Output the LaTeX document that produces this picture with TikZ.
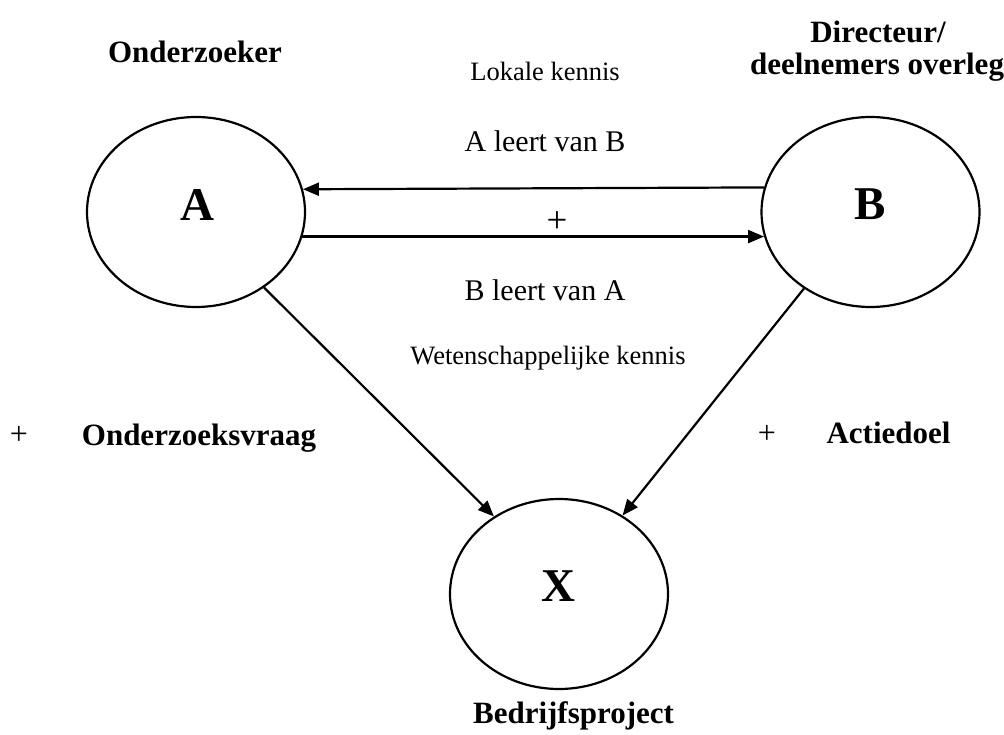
\documentclass[tikz,border=0pt]{standalone}
\usepackage{fontspec}
\setmainfont{Liberation Serif}
\usetikzlibrary{shapes.geometric,arrows.meta}

\begin{document}
\begin{tikzpicture}[x=1pt,y=-1pt,
  party/.style={ellipse, draw, line width=2.2pt, minimum width=218pt,
                minimum height=190pt, inner sep=0pt},
  bigletter/.style={anchor=base, inner sep=0pt,
                font=\fontsize{47}{50}\selectfont\bfseries},
  rolelabel/.style={anchor=base, inner sep=0pt,
                font=\fontsize{31}{32}\selectfont\bfseries},
  flowlabel/.style={anchor=base, inner sep=0pt,
                font=\fontsize{30}{32}\selectfont},
  kindlabel/.style={anchor=base, inner sep=0pt,
                font=\fontsize{26.5}{28}\selectfont},
  plussign/.style={anchor=center, inner sep=0pt,
                font=\fontsize{32}{34}\selectfont},
  link/.style={line width=2.2pt, -{Triangle[length=16pt,width=13pt]}}
]
\useasboundingbox[fill=white] (0,0) rectangle (1004,735);

% the three parties
\node[party] (A) at (196,212) {};
\node[party] (B) at (870.5,212) {};
\node[party] (X) at (559,594) {};

\node[bigletter] (Aletter) at (197,221) {A};
\node[bigletter] (Bletter) at (870,220) {B};
\node[bigletter] (Xletter) at (558,601) {X};

% role captions
\node[rolelabel] (onderzoeker) at (195,63) {Onderzoeker};
\node[rolelabel] (dirA) at (878,43) {Directeur/};
\node[rolelabel] (dirB) at (877,75) {deelnemers overleg};
\node[rolelabel] (vraag) at (199,445) {Onderzoeksvraag};
\node[rolelabel] (doel) at (888.5,443) {Actiedoel};
\node[rolelabel] (project) at (573.5,723) {Bedrijfsproject};

\node[plussign] (plusL) at (19,435) {+};
\node[plussign] (plusR) at (767,434) {+};

% mutual learning between A and B
\node[kindlabel] (lokaal) at (545,81) {Lokale kennis};
\node[flowlabel] (AvanB) at (545,152) {A leert van B};
\node[plussign, font=\fontsize{37}{38}\selectfont] (plusM) at (557,222) {+};
\node[flowlabel] (BvanA) at (545,301) {B leert van A};
\node[kindlabel] (wetensch) at (548,364) {Wetenschappelijke kennis};

\draw[link] (B.167.72) -- (A.12.28);
\draw[link] (A.-13.37) -- (B.193.37);

% both parties feed into the project
\draw[link] (A.-48.65) -- (X.130.1);
\draw[link] (B.-131.1) -- (X.51.25);
\end{tikzpicture}
\end{document}
